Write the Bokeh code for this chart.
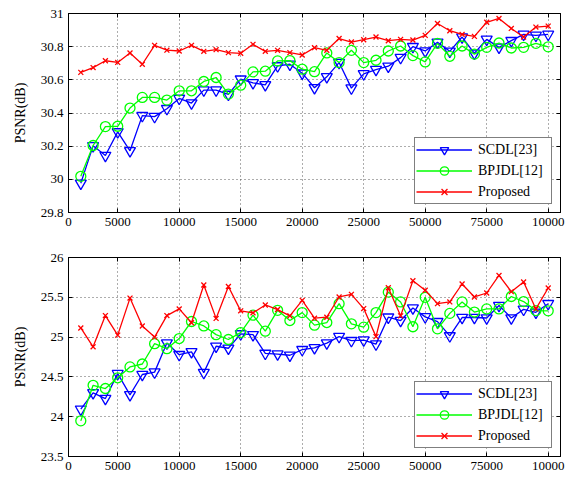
from bokeh.plotting import figure
from bokeh.models import FixedTicker, LinearAxis, Range1d, Legend, LegendItem
from bokeh.layouts import column
from bokeh.embed import file_html
from bokeh.resources import INLINE

# ---------------- data ----------------
x = list(range(1, 40))
x_ticks = [0, 4, 9, 14, 19, 24, 29, 34, 39]
x_tick_labels = ["0", "5000", "10000", "15000", "20000", "25000", "50000", "75000", "10000"]

top_y_ticks = [29.8, 30.0, 30.2, 30.4, 30.6, 30.8, 31.0]
top_y_labels = ["29.8", "30", "30.2", "30.4", "30.6", "30.8", "31"]
bot_y_ticks = [23.5, 24.0, 24.5, 25.0, 25.5, 26.0]
bot_y_labels = ["23.5", "24", "24.5", "25", "25.5", "26"]

series_names = ["SCDL[23]", "BPJDL[12]", "Proposed"]

top_scdl = [29.976, 30.202, 30.144, 30.286, 30.172, 30.384, 30.378, 30.426, 30.488, 30.46,
            30.538, 30.538, 30.512, 30.604, 30.582, 30.57, 30.684, 30.694, 30.64, 30.552,
            30.618, 30.704, 30.55, 30.636, 30.662, 30.682, 30.734, 30.8, 30.774, 30.826,
            30.772, 30.858, 30.76, 30.844, 30.796, 30.836, 30.874, 30.868, 30.874]
top_bpjdl = [30.018, 30.204, 30.318, 30.32, 30.43, 30.494, 30.494, 30.478, 30.534, 30.534,
             30.59, 30.614, 30.514, 30.568, 30.648, 30.652, 30.714, 30.716, 30.664, 30.649,
             30.762, 30.704, 30.778, 30.704, 30.718, 30.774, 30.804, 30.746, 30.708, 30.82,
             30.742, 30.804, 30.755, 30.796, 30.822, 30.792, 30.796, 30.82, 30.799]
top_prop = [30.645, 30.674, 30.715, 30.705, 30.762, 30.694, 30.808, 30.779, 30.774, 30.808,
            30.772, 30.782, 30.764, 30.76, 30.814, 30.772, 30.778, 30.764, 30.75, 30.794,
            30.778, 30.849, 30.828, 30.842, 30.858, 30.836, 30.844, 30.84, 30.868, 30.94,
            30.896, 30.874, 30.862, 30.947, 30.97, 30.91, 30.858, 30.918, 30.924]

bot_scdl = [24.094, 24.3, 24.228, 24.541, 24.275, 24.53, 24.56, 24.925, 24.779, 24.815,
            24.554, 24.885, 24.86, 25.04, 25.03, 24.795, 24.787, 24.772, 24.842, 24.865,
            24.925, 25.006, 24.955, 24.962, 24.912, 25.25, 25.208, 25.365, 25.254, 25.194,
            25.015, 25.246, 25.246, 25.24, 25.396, 25.24, 25.348, 25.312, 25.42]
bot_bpjdl = [23.948, 24.394, 24.354, 24.489, 24.625, 24.662, 24.917, 24.854, 24.982, 25.196,
             25.14, 25.031, 24.97, 25.057, 25.275, 25.075, 25.336, 25.208, 25.308, 25.15,
             25.183, 25.42, 25.167, 25.125, 25.308, 25.565, 25.442, 25.13, 25.5, 25.104,
             25.298, 25.442, 25.315, 25.354, 25.354, 25.51, 25.446, 25.333, 25.33]
bot_prop = [25.115, 24.878, 25.27, 25.025, 25.49, 25.14, 25.0, 25.27, 25.354, 25.18,
            25.654, 25.235, 25.635, 25.33, 25.305, 25.404, 25.346, 25.267, 25.462, 25.238,
            25.25, 25.504, 25.537, 25.358, 25.006, 25.62, 25.267, 25.708, 25.588, 25.42,
            25.442, 25.667, 25.504, 25.554, 25.775, 25.571, 25.692, 25.354, 25.617]

FONT = "Liberation Serif"
BLUE, GREEN, RED = "#0000ff", "#00ff00", "#ff0000"


def box_axis(ticker):
    # unlabeled axis that only draws inward ticks (MATLAB-style box)
    return LinearAxis(ticker=ticker, major_label_text_font_size="1px",
                      major_label_text_alpha=0, major_label_standoff=0,
                      major_tick_in=4, major_tick_out=0, minor_tick_in=0, minor_tick_out=0,
                      axis_line_color="black", major_tick_line_color="black")


def make_panel(y_range, y_ticks, y_labels, scdl, bpjdl, prop, height, mbt, mbb):
    p = figure(width=568, height=height, x_range=Range1d(0, 40), y_range=Range1d(*y_range),
               output_backend="svg", toolbar_location=None,
               min_border_left=68, min_border_right=8, min_border_top=mbt, min_border_bottom=mbb)
    p.outline_line_color = "black"
    p.outline_line_width = 1
    p.background_fill_color = "white"
    p.border_fill_color = "white"

    xt = FixedTicker(ticks=x_ticks)
    yt = FixedTicker(ticks=y_ticks)
    xa = p.xaxis[0]
    ya = p.yaxis[0]
    xa.ticker = xt
    ya.ticker = yt
    xa.major_label_overrides = dict(zip(x_ticks, x_tick_labels))
    ya.major_label_overrides = dict(zip(y_ticks, y_labels))
    for ax in (xa, ya):
        ax.major_label_text_font = FONT
        ax.major_label_text_font_size = "13px"
        ax.major_label_text_color = "black"
        ax.axis_line_color = "black"
        ax.major_tick_line_color = "black"
        ax.major_tick_in = 4
        ax.major_tick_out = 0
        ax.minor_tick_in = 0
        ax.minor_tick_out = 0
        ax.major_label_standoff = 5
    ya.axis_label = "PSNR(dB)"
    ya.axis_label_text_font = FONT
    ya.axis_label_text_font_size = "14px"
    ya.axis_label_text_font_style = "normal"
    ya.axis_label_text_color = "black"
    ya.axis_label_standoff = 10

    for g in (p.xgrid[0], p.ygrid[0]):
        g.grid_line_color = "#333333"
        g.grid_line_dash = "1 3"
        g.grid_line_width = 1
        g.grid_line_alpha = 0.8

    p.add_layout(box_axis(yt), "right")
    p.add_layout(box_axis(xt), "above")

    lw = 1.3
    l1 = p.line(x, scdl, line_color=BLUE, line_width=lw)
    m1 = p.scatter(x, scdl, marker="inverted_triangle", size=11, line_color=BLUE,
                   fill_color=None, line_width=lw)
    l2 = p.line(x, bpjdl, line_color=GREEN, line_width=lw)
    m2 = p.scatter(x, bpjdl, marker="circle", size=10, line_color=GREEN,
                   fill_color=None, line_width=lw)
    l3 = p.line(x, prop, line_color=RED, line_width=lw)
    m3 = p.scatter(x, prop, marker="x", size=7, line_color=RED, line_width=lw)

    legend = Legend(items=[LegendItem(label=series_names[0], renderers=[l1, m1]),
                           LegendItem(label=series_names[1], renderers=[l2, m2]),
                           LegendItem(label=series_names[2], renderers=[l3, m3])],
                    location="bottom_right", margin=8, padding=1, spacing=-2,
                    glyph_width=56, glyph_height=21, label_height=21, label_width=72,
                    label_standoff=6,
                    label_text_font=FONT, label_text_font_size="14px",
                    label_text_color="black",
                    border_line_color="black", border_line_width=1,
                    background_fill_color="white", background_fill_alpha=1.0)
    p.add_layout(legend)
    return p


p1 = make_panel((29.8, 31.0), top_y_ticks, top_y_labels, top_scdl, top_bpjdl, top_prop,
                height=240, mbt=13, mbb=28)
p2 = make_panel((23.5, 26.0), bot_y_ticks, bot_y_labels, bot_scdl, bot_bpjdl, bot_prop,
                height=237, mbt=17, mbb=21)

layout = column(p1, p2, spacing=0)

with open("out.html", "w") as f:
    f.write(file_html(layout, INLINE))
